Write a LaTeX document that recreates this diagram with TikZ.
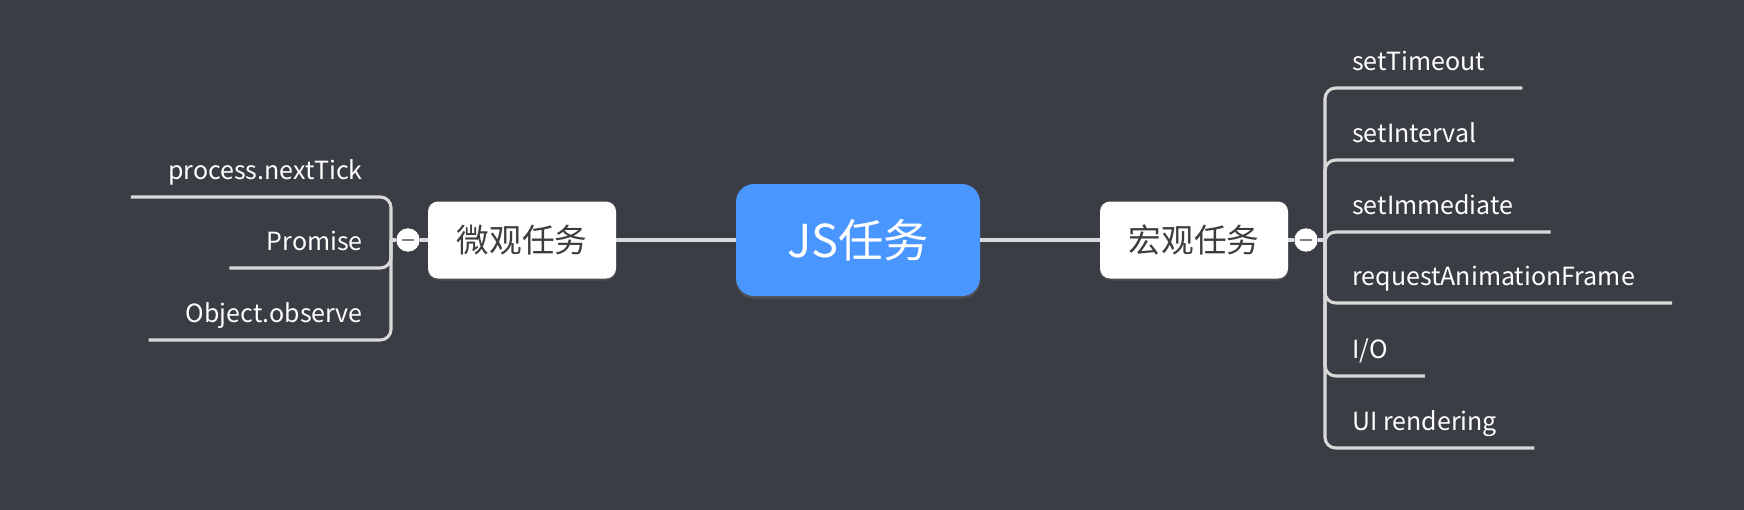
\documentclass[tikz,border=0pt]{standalone}
\usepackage{fontspec}
\setmainfont{Noto Sans CJK SC}
\usetikzlibrary{shadows}
\definecolor{bgdark}{HTML}{3A3D43}
\definecolor{linegray}{HTML}{D9D9D9}
\definecolor{jsblue}{HTML}{4A96FF}
\definecolor{boxtext}{HTML}{3D3D3D}

\begin{document}
\begin{tikzpicture}[x=0.75pt, y=-0.75pt,
    branch/.style={draw=linegray, line width=2.3pt, rounded corners=8pt},
    topic/.style={fill=white, rounded corners=7.5pt, minimum width=141pt, minimum height=57.75pt,
        text=boxtext, font=\fontsize{24.5}{28}\selectfont,
        drop shadow={opacity=0.25, shadow xshift=0pt, shadow yshift=-1.5pt}},
    leaf/.style={inner xsep=0pt, inner ysep=0pt, text depth=12.75pt,
        text=white, font=\fontsize{18.75}{22}\selectfont},
    fold/.style={circle, fill=white, minimum size=17.5pt, inner sep=0pt,
        path picture={\draw[line width=2.2pt, gray]
            ([xshift=-4.5pt]path picture bounding box.center) --
            ([xshift=4.5pt]path picture bounding box.center);}}]
    \path[use as bounding box, fill=bgdark] (0,0) rectangle (1744,510);
    % central topic and the two main branches
    \node[fill=jsblue, rounded corners=13.5pt, minimum width=183pt, minimum height=84pt,
        text=white, font=\fontsize{34}{38}\selectfont,
        drop shadow={opacity=0.3, shadow xshift=0pt, shadow yshift=-2pt}] (root) at (858,240) {JS任务};
    \node[topic] (micro) at (522,240) {微观任务};
    \node[topic] (macro) at (1194,240) {宏观任务};
    \node[fold] (lfold) at (408,240) {};
    \node[fold] (rfold) at (1306,240) {};
    \coordinate (lj) at (391,240);
    \coordinate (rj) at (1325,240);
    % leaves
    \node[leaf, anchor=south east] (tick) at (363,197) {process.nextTick};
    \node[leaf, anchor=south east] (promise) at (363,268) {Promise};
    \node[leaf, anchor=south east] (observe) at (363,340) {Object.observe};
    \node[leaf, anchor=south west] (timeout) at (1352,88) {setTimeout};
    \node[leaf, anchor=south west] (interval) at (1352,160) {setInterval};
    \node[leaf, anchor=south west] (immediate) at (1352,232) {setImmediate};
    \node[leaf, anchor=south west] (raf) at (1352,303) {requestAnimationFrame};
    \node[leaf, anchor=south west] (io) at (1352,376) {I/O};
    \node[leaf, anchor=south west] (ui) at (1352,448) {UI rendering};
    % connectors
    \draw[branch] (micro) -- (root);
    \draw[branch] (root) -- (macro);
    \draw[branch] (micro) -- (lfold);
    \draw[branch] (lfold) -- (lj);
    \draw[branch] (macro) -- (rfold);
    \draw[branch] (rfold) -- (rj);
    \foreach \leaf in {tick, promise, observe}
        \draw[branch] (lj) |- ([xshift=-27.75pt]\leaf.south west);
    \foreach \leaf in {timeout, interval, immediate, raf, io, ui}
        \draw[branch] (rj) |- ([xshift=27.75pt]\leaf.south east);
\end{tikzpicture}
\end{document}
